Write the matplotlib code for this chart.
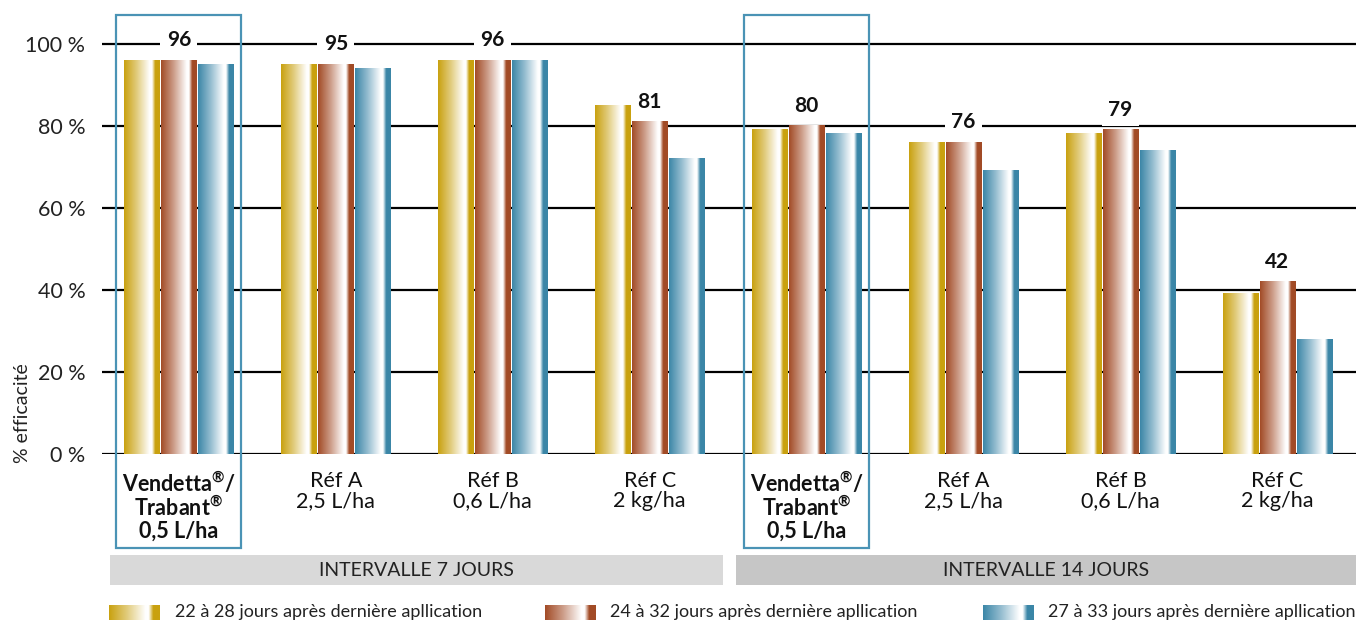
import numpy as np
import matplotlib
matplotlib.use("Agg")
from matplotlib import pyplot as plt
from matplotlib.colors import LinearSegmentedColormap
from matplotlib.patches import Rectangle
from matplotlib.transforms import blended_transform_factory

# police proche de l'original
plt.rcParams['font.family'] = ['Lato', 'DejaVu Sans']
plt.rcParams['mathtext.fontset'] = 'custom'
plt.rcParams['mathtext.rm'] = 'Lato:bold'
plt.rcParams['mathtext.bf'] = 'Lato:bold'

categories = ["Vendetta$^{\\mathrm{®}}$/\nTrabant$^{\\mathrm{®}}$\n0,5 L/ha", "Réf A\n2,5 L/ha",
              "Réf B\n0,6 L/ha", "Réf C\n2 kg/ha"] * 2
serie_1 = [96, 95, 96, 85, 79, 76, 78, 39]
serie_2 = [96, 95, 96, 81, 80, 76, 79, 42]
serie_3 = [95, 94, 96, 72, 78, 69, 74, 28]
noms_series = ["22 à 28 jours après dernière apllication",
               "24 à 32 jours après dernière apllication",
               "27 à 33 jours après dernière apllication"]
intervalles = ["INTERVALLE 7 JOURS", "INTERVALLE 14 JOURS"]
yticks = [0, 20, 40, 60, 80, 100]

couleurs = ["#c9a10f", "#a24b26", "#3b86a7"]


def degrade(c):
    return LinearSegmentedColormap.from_list(
        "g", [(0, c), (0.35, matplotlib.colors.to_hex(
            0.55 * np.array(matplotlib.colors.to_rgb(c)) + 0.45)),
              (0.72, "#ffffff"), (0.78, "#ffffff"), (0.87, c), (1, c)])


grad = np.linspace(0, 1, 256).reshape(1, -1)

fig = plt.figure(figsize=(13.56, 6.2), dpi=100)
ax = fig.add_axes([102 / 1356, 1 - 454 / 620, 1 - 102 / 1356, 439 / 620])

x = np.arange(len(categories))
pas = 0.236
larg = 0.228

# lignes de grille
for v in yticks:
    ax.axhline(v, color="black", lw=1.6, zorder=0)

for i, serie in enumerate([serie_1, serie_2, serie_3]):
    bars = ax.bar(x + (i - 1) * pas, serie, width=larg, color="none",
                  edgecolor="none", zorder=2)
    cm = degrade(couleurs[i])
    for b in bars:
        ax.imshow(grad, cmap=cm, aspect="auto", zorder=2,
                  extent=[b.get_x(), b.get_x() + b.get_width(), 0, b.get_height()])

# valeurs au-dessus de la barre du milieu
for xi, v in zip(x, serie_2):
    ax.annotate(str(v), (xi, v), xytext=(0, 14.5), textcoords="offset points",
                ha="center", va="center", fontsize=15, fontweight="bold",
                color="#111111", zorder=3,
                bbox=dict(boxstyle="square,pad=0.3", fc="white", ec="none"))

ax.set_xlim(-0.49, 7.5)
ax.set_ylim(0, 107)
for s in ax.spines.values():
    s.set_visible(False)
ax.set_yticks(yticks)
ax.set_yticklabels([f"{v} %" for v in yticks], fontsize=15.5, color="#222222")
ax.set_xticks(x)
ax.set_xticklabels(categories, fontsize=15.5, color="#111111", linespacing=1.0)
ax.tick_params(length=0, axis="y", pad=12)
ax.tick_params(length=0, axis="x", pad=12)
for i in (0, 4):
    ax.get_xticklabels()[i].set_fontweight("bold")

fig.text(23 / 1356, 1 - 463 / 620, "% efficacité", rotation=90,
         ha="center", va="bottom", fontsize=14, color="#222222")

blend = blended_transform_factory(ax.transData, fig.transFigure)
for xc in (0, 4):
    ax.add_patch(Rectangle((xc - 0.398, 1 - 548 / 620), 0.796, 533 / 620,
                           transform=blend, fill=False, edgecolor="#4a93b5",
                           lw=1.6, clip_on=False, zorder=5))

# bandes des intervalles
bandes = [(-0.44, 3.465, "#d9d9d9"), (3.55, 7.5, "#c6c6c6")]
for (x0, x1, fc), txt in zip(bandes, intervalles):
    ax.add_patch(Rectangle((x0, 1 - 585 / 620), x1 - x0, 30 / 620,
                           transform=blend, facecolor=fc, edgecolor="none",
                           clip_on=False))
    ax.text((x0 + x1) / 2, 1 - 570 / 620, txt, transform=blend, ha="center",
            va="center", fontsize=14, color="#222222")

# légende
for i, nom in enumerate(noms_series):
    xs = [109, 545, 983][i]
    xt = [175, 610, 1048][i]
    lax = fig.add_axes([xs / 1356, -0.005, 51 / 1356, 18 / 620])
    lax.imshow(grad, cmap=degrade(couleurs[i]), aspect="auto")
    lax.axis("off")
    fig.text(xt / 1356, 1 - 617 / 620, nom, ha="left", va="baseline",
             fontsize=13, color="#222222")

fig.savefig("out.png", dpi=100)
